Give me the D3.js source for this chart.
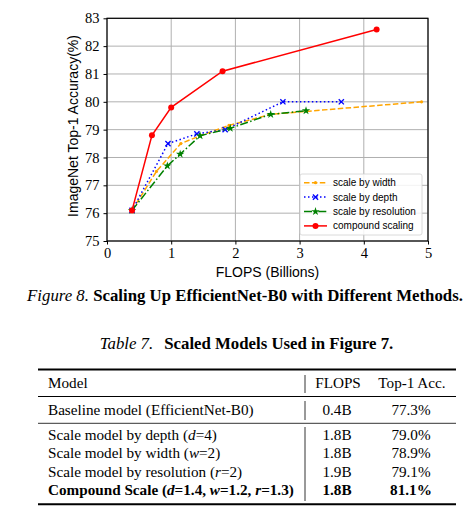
<!DOCTYPE html>
<html>
<head>
<meta charset="utf-8">
<script src="https://cdn.jsdelivr.net/npm/d3@7"></script>
<style>
  body { margin: 0; background: #fff; }
  svg { display: block; }
</style>
</head>
<body>
<svg id="svg" width="473" height="517"></svg>
<script>
// series (FLOPS in billions, top-1 accuracy in %)
const widthFlops = [0.39, 0.77, 1.15, 1.45, 1.9, 2.55, 4.9];
const widthAcc = [76.1, 77.5, 78.5, 78.78, 79.15, 79.55, 80.0];
const depthFlops = [0.39, 0.95, 1.4, 1.84, 2.74, 3.65];
const depthAcc = [76.1, 78.5, 78.85, 79.0, 80.0, 80.0];
const resFlops = [0.39, 0.94, 1.14, 1.45, 1.92, 2.55, 3.1];
const resAcc = [76.1, 77.7, 78.12, 78.78, 79.05, 79.55, 79.68];
const compFlops = [0.39, 0.7, 1.0, 1.8, 4.2];
const compAcc = [76.1, 78.8, 79.8, 81.1, 82.6];

const seriesNames = ['scale by width', 'scale by depth', 'scale by resolution', 'compound scaling'];
const xTicks = [0, 1, 2, 3, 4, 5];
const yTicks = [75, 76, 77, 78, 79, 80, 81, 82, 83];

// table 7 (*x* = italic)
const tableHeader = ['Model', 'FLOPS', 'Top-1 Acc.'];
const tableModels = ['Baseline model (EfficientNet-B0)', 'Scale model by depth (*d*=4)', 'Scale model by width (*w*=2)',
  'Scale model by resolution (*r*=2)', 'Compound Scale (*d*=1.4, *w*=1.2, *r*=1.3)'];
const tableFlops = ['0.4B', '1.8B', '1.8B', '1.9B', '1.8B'];
const tableAcc = ['77.3%', '79.0%', '78.9%', '79.1%', '81.1%'];

const svg = d3.select('#svg');
const sans = 'Liberation Sans, Arial, sans-serif';
const serif = 'Liberation Serif, Times New Roman, serif';

const x = d3.scaleLinear().domain([0, 5]).range([107, 428]);
const y = d3.scaleLinear().domain([75, 83]).range([241, 18.3]);

// grid
svg.append('g').selectAll('line').data(xTicks).enter().append('line')
  .attr('x1', d => x(d)).attr('x2', d => x(d)).attr('y1', y(75)).attr('y2', y(83))
  .attr('stroke', '#b0b0b0').attr('stroke-width', 1);
svg.append('g').selectAll('line').data(yTicks).enter().append('line')
  .attr('y1', d => y(d)).attr('y2', d => y(d)).attr('x1', x(0)).attr('x2', x(5))
  .attr('stroke', '#b0b0b0').attr('stroke-width', 1);

// axes
const xAxis = svg.append('g').attr('transform', `translate(0,${y(75)})`)
  .call(d3.axisBottom(x).tickValues(xTicks).tickSize(3.5).tickPadding(3).tickFormat(d3.format('d')));
const yAxis = svg.append('g').attr('transform', `translate(${x(0)},0)`)
  .call(d3.axisLeft(y).tickValues(yTicks).tickSize(3.5).tickPadding(4).tickFormat(d3.format('d')));
[xAxis, yAxis].forEach(a => {
  a.select('.domain').remove();
  a.selectAll('text').attr('font-family', serif).attr('font-size', 14.5).attr('fill', '#000');
  a.selectAll('line').attr('stroke', '#000').attr('stroke-width', 1);
});

svg.append('rect')
  .attr('x', x(0)).attr('y', y(83)).attr('width', x(5) - x(0)).attr('height', y(75) - y(83))
  .attr('fill', 'none').attr('stroke', '#000').attr('stroke-width', 1.2);

svg.append('text').attr('x', (x(0) + x(5)) / 2).attr('y', 277).attr('text-anchor', 'middle')
  .attr('font-family', sans).attr('font-size', 14).text('FLOPS (Billions)');
svg.append('text').attr('transform', 'translate(78,126) rotate(-90)')
  .attr('text-anchor', 'middle').attr('font-family', sans).attr('font-size', 14)
  .text('ImageNet Top-1 Accuracy(%)');

// markers
const markers = {
  dot: (g, c) => g.append('circle').attr('r', 1.6).attr('fill', c),
  x: (g, c) => g.append('path').attr('d', 'M-2.6,-2.6L2.6,2.6M-2.6,2.6L2.6,-2.6').attr('stroke', c).attr('stroke-width', 1.3),
  star: (g, c) => g.append('path').attr('d', d3.symbol(d3.symbolStar, 22)()).attr('fill', c),
  circle: (g, c) => g.append('circle').attr('r', 3).attr('fill', c)
};

const series = [
  { xs: widthFlops, ys: widthAcc, color: '#ffa500', dash: '5.5,2.4', marker: 'dot' },
  { xs: depthFlops, ys: depthAcc, color: '#0000ff', dash: '1.5,2.5', marker: 'x' },
  { xs: resFlops, ys: resAcc, color: '#008000', dash: '8,2.4,1.5,2.4', marker: 'star' },
  { xs: compFlops, ys: compAcc, color: '#ff0000', dash: null, marker: 'circle' }
];

const line = d3.line().x(d => x(d[0])).y(d => y(d[1]));
series.forEach(s => {
  const pts = s.xs.map((v, i) => [v, s.ys[i]]);
  svg.append('path').datum(pts).attr('d', line)
    .attr('fill', 'none').attr('stroke', s.color).attr('stroke-width', 1.5)
    .attr('stroke-dasharray', s.dash);
  svg.append('g').selectAll('g').data(pts).enter().append('g')
    .attr('transform', d => `translate(${x(d[0])},${y(d[1])})`)
    .each(function () { markers[s.marker](d3.select(this), s.color); });
});

// legend
const legend = svg.append('g');
legend.append('rect').attr('x', 300).attr('y', 174).attr('width', 122).attr('height', 61)
  .attr('rx', 2).attr('fill', '#fff').attr('fill-opacity', 0.85).attr('stroke', '#d0d0d0').attr('stroke-width', 0.8);
series.forEach((s, i) => {
  const ly = 182.7 + i * 14.4;
  legend.append('line').attr('x1', 304).attr('x2', 327).attr('y1', ly).attr('y2', ly)
    .attr('stroke', s.color).attr('stroke-width', 1.5).attr('stroke-dasharray', s.dash);
  markers[s.marker](legend.append('g').attr('transform', `translate(315.5,${ly})`), s.color);
  legend.append('text').attr('x', 333).attr('y', ly + 3.5).attr('font-family', sans).attr('font-size', 10)
    .text(seriesNames[i]);
});

// figure caption
const cap = svg.append('text').attr('x', 245).attr('y', 300.5).attr('text-anchor', 'middle')
  .attr('font-family', serif).attr('font-size', 16.8);
cap.append('tspan').attr('font-style', 'italic').text('Figure 8.');
cap.append('tspan').attr('font-weight', 'bold').text(' Scaling Up EfficientNet-B0 with Different Methods.');

// table caption
const tcap = svg.append('text').attr('x', 246.5).attr('y', 349.3).attr('text-anchor', 'middle')
  .attr('font-family', serif).attr('font-size', 16.8);
tcap.append('tspan').attr('font-style', 'italic').text('Table 7.');
tcap.append('tspan').attr('font-weight', 'bold').attr('dx', 11).text('Scaled Models Used in Figure 7.');

// table
const tx0 = 38, tx1 = 456, colFlops = 337, colAcc = 411, sepX = 305;
const rule = (yy, w) => svg.append('line').attr('x1', tx0).attr('x2', tx1).attr('y1', yy).attr('y2', yy)
  .attr('stroke', '#000').attr('stroke-width', w);
rule(369.5, 2);
rule(396.5, 1.2);
rule(423.3, 0.8);
rule(504.3, 2);

const vsep = (y1, y2) => svg.append('line').attr('x1', sepX).attr('x2', sepX).attr('y1', y1).attr('y2', y2)
  .attr('stroke', '#000').attr('stroke-width', 0.8);
vsep(375, 393);
vsep(401, 420);
vsep(427, 501);

const cell = (xx, yy, anchor, bold) => svg.append('text').attr('x', xx).attr('y', yy)
  .attr('text-anchor', anchor).attr('font-family', serif).attr('font-size', 15.2)
  .attr('font-weight', bold ? 'bold' : 'normal');

cell(48, 388, 'start').text(tableHeader[0]);
cell(338, 388, 'middle').text(tableHeader[1]);
cell(412, 388, 'middle').text(tableHeader[2]);

const rowY = [415, 440, 458, 476.5, 494.5];
tableModels.forEach((m, i) => {
  const bold = i === tableModels.length - 1;
  const t = cell(48, rowY[i], 'start', bold);
  m.split('*').forEach((part, k) => {
    if (part) t.append('tspan').attr('font-style', k % 2 ? 'italic' : 'normal').text(part);
  });
  cell(colFlops, rowY[i], 'middle', bold).text(tableFlops[i]);
  cell(colAcc, rowY[i], 'middle', bold).text(tableAcc[i]);
});
</script>
</body>
</html>
